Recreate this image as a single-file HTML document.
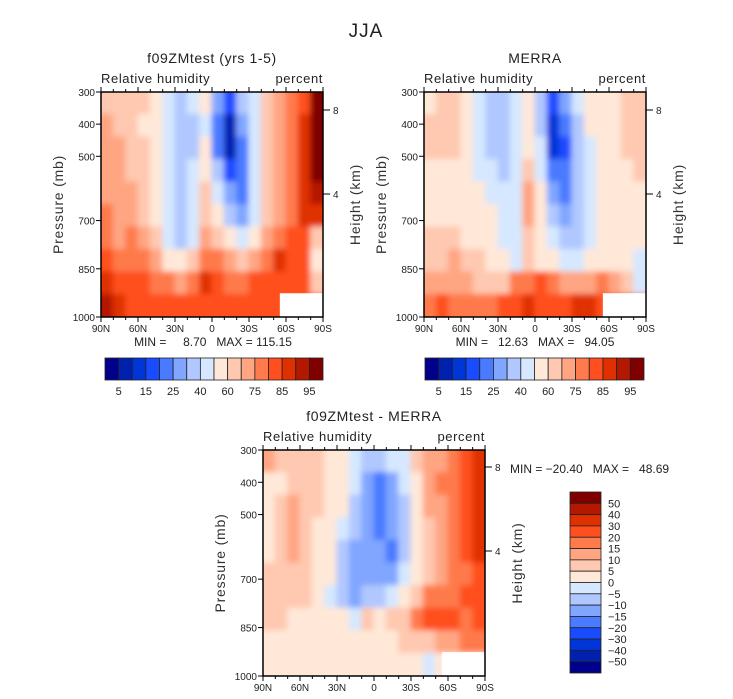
<!DOCTYPE html>
<html><head><meta charset="utf-8"><style>
html,body{margin:0;padding:0;background:#fff;}
svg{display:block;font-family:"Liberation Sans",sans-serif;}
.pre{white-space:pre;}
</style></head><body>
<svg id="chart" width="733" height="699" viewBox="0 0 733 699" xmlns="http://www.w3.org/2000/svg">
<defs></defs>
<text x="366" y="37" font-size="19" text-anchor="middle" fill="#222" letter-spacing="1">JJA</text>
</svg>
<script>
// ----- data -----
const latLabels = ["90N","60N","30N","0","30S","60S","90S"];
const pressureTicks = [300,400,500,700,850,1000];
const rhLevels = [5,10,15,20,25,30,40,50,60,65,75,80,85,90,95];
const rhLabelLevels = [5,15,25,40,60,75,85,95];
const diffLevels = [-50,-40,-30,-20,-15,-10,-5,0,5,10,15,20,30,40,50];
const palette = ["#00008a","#0020b0","#0035d8","#1a4cff","#4a7aff","#80a6ff","#b0c8ff","#d6e8ff","#ffe8d8","#ffc8b0","#ffa582","#ff7a4c","#ff4f1e","#e03000","#b41800","#800000"];
const heightTicks = [8,4];
// rows: pressure bands 300..1000 (70 mb each), columns: 85N..85S every 10 deg
const modelRH = [
[62,62,62,62,55,45,35,45,55,27,17,35,45,62,70,77,82,97],
[70,62,62,55,55,45,35,35,45,22,7,27,45,62,70,77,87,97],
[70,70,62,62,55,45,35,35,55,22,7,22,45,62,70,77,87,97],
[70,70,62,62,55,45,35,45,55,35,17,22,45,62,70,77,87,97],
[70,70,70,62,55,45,35,45,62,45,27,22,45,62,70,77,87,92],
[77,70,70,62,55,45,35,45,62,55,35,27,45,62,70,77,87,87],
[77,70,77,70,62,45,35,45,70,62,55,45,55,70,77,82,82,62],
[82,77,77,77,70,55,55,62,77,77,70,62,70,77,87,82,82,55],
[87,82,82,82,77,77,70,77,87,82,77,77,82,82,82,82,82,62],
[92,87,82,82,82,82,82,82,82,82,82,82,82,82,82,82,82,82]];
const merraRH = [
[55,62,62,55,45,35,35,45,55,35,17,27,45,55,55,55,62,62],
[62,62,62,55,45,35,35,45,55,35,12,22,35,55,55,55,62,62],
[62,62,62,55,45,35,35,45,55,45,12,17,35,45,55,55,62,62],
[55,55,55,55,45,45,35,45,62,45,22,22,35,45,55,55,55,62],
[55,55,55,55,55,45,45,45,70,55,27,22,35,45,55,55,55,55],
[55,55,55,55,55,55,45,45,70,55,35,27,35,45,55,55,55,55],
[62,62,62,55,55,55,45,45,62,55,45,35,35,45,55,55,55,55],
[62,62,70,62,62,55,55,45,62,55,55,45,45,55,55,55,55,45],
[70,70,70,70,62,62,62,77,77,82,77,70,70,70,77,70,62,45],
[77,82,77,77,77,77,82,82,87,82,82,82,87,87,82,82,87,87]];
const diffRH = [
[12,7,7,7,7,2,2,-2,-7,-7,-2,-2,7,12,12,17,25,35],
[2,2,7,7,7,2,2,-2,-12,-17,-12,-2,2,12,17,17,25,35],
[2,7,12,7,7,2,2,-7,-12,-17,-12,-7,2,12,12,17,25,35],
[2,7,12,7,2,2,-2,-7,-12,-17,-12,-7,2,7,12,17,25,35],
[2,7,12,7,2,2,-7,-12,-12,-12,-17,-7,2,7,12,17,25,35],
[7,7,7,7,2,2,-7,-12,-12,-12,-12,-2,2,7,12,17,17,25],
[7,7,7,7,2,-2,-7,-12,-7,-7,-2,2,7,17,17,17,25,25],
[7,7,2,2,2,2,2,-2,7,2,7,7,17,25,25,25,17,25],
[2,2,2,2,2,2,2,2,2,2,2,7,7,7,12,12,17,17],
[2,2,2,2,2,2,2,2,2,2,2,2,2,-2,2,2,2,2]];

const NS="http://www.w3.org/2000/svg";
const svg=document.getElementById('chart');
const defs=svg.querySelector('defs');
function mk(tag,attrs,parent){const e=document.createElementNS(NS,tag);for(const k in attrs)e.setAttribute(k,attrs[k]);(parent||svg).appendChild(e);return e;}
function colorFor(v,levels){let i=0;while(i<levels.length&&v>=levels[i])i++;return palette[i];}

function panel(cfg){
  const {x0,x1,y0,y1,data,levels,name}=cfg;
  const xs=lat=>x0+(90-lat)/180*(x1-x0);
  const ys=p=>y0+(p-300)/700*(y1-y0);
  const g=mk('g',{});
  
  
  const cp=mk('clipPath',{id:'clip-'+name},defs);
  mk('rect',{x:x0,y:y0,width:x1-x0,height:y1-y0},cp);
  const flt=mk('filter',{id:'blur-'+name,filterUnits:'userSpaceOnUse',x:x0-30,y:y0-30,width:x1-x0+60,height:y1-y0+60},defs);
  mk('feGaussianBlur',{stdDeviation:3},flt);
  const outer=mk('g',{'clip-path':'url(#clip-'+name+')'},g);
  const field=mk('g',{filter:'url(#blur-'+name+')'},outer);
  
  
  const nr=data.length,nc=data[0].length,E=14;
  for(let r=0;r<nr;r++)for(let c=0;c<nc;c++){
    const v=data[r][c];
    const la=90-c*180/nc, lb=90-(c+1)*180/nc;
    const pa=300+r*700/nr, pb=300+(r+1)*700/nr;
    let cx0=xs(la)-0.5, cx1=xs(lb)+0.5, cy0=ys(pa)-0.5, cy1=ys(pb)+0.5;
    if(c===0)cx0-=E; if(c===nc-1)cx1+=E; if(r===0)cy0-=E; if(r===nr-1)cy1+=E;
    const cell=mk('rect',{x:cx0,y:cy0,width:cx1-cx0,height:cy1-cy0,fill:v===null?'#fff':colorFor(v,levels)},field);
    
    
  }
  const m=mk('rect',{x:xs(-55),y:ys(926),width:x1-xs(-55),height:y1-ys(926),fill:'#fff'},outer);
  
  
  const fr=mk('rect',{x:x0,y:y0,width:x1-x0,height:y1-y0,fill:'none',stroke:'#000','stroke-width':1.5},g);
  
  
  for(let lat=90;lat>=-90;lat-=10){
    const x=xs(lat),major=(lat%30===0);
    mk('line',{x1:x,x2:x,y1:y1,y2:y1+(major?5:3),stroke:'#000'},g);
    mk('line',{x1:x,x2:x,y1:y0,y2:y0-(major?5:3),stroke:'#000'},g);
  }
  latLabels.forEach((t,i)=>{
    const lat=90-i*30;
    const tx=mk('text',{x:xs(lat),y:y1+15,'font-size':10,'text-anchor':'middle',fill:'#222'},g);
    tx.textContent=t;
    
    
  });
  pressureTicks.forEach(p=>{
    mk('line',{x1:x0-5,x2:x0,y1:ys(p),y2:ys(p),stroke:'#000'},g);
    const tx=mk('text',{x:x0-6,y:ys(p)+4,'font-size':10,'text-anchor':'end',fill:'#222'},g);
    tx.textContent=p;
    
    
  });
  heightTicks.forEach((h,i)=>{
    const y=cfg.hY[i];
    mk('line',{x1:x1,x2:x1+7,y1:y,y2:y,stroke:'#000'},g);
    const tx=mk('text',{x:x1+10,y:y+4,'font-size':10,fill:'#222'},g);
    tx.textContent=h;
    
    
  });
  const cy=(y0+y1)/2;
  const yt=mk('text',{x:x0-38,y:cy,'font-size':14,'text-anchor':'middle',fill:'#333','letter-spacing':0.8,transform:`rotate(-90 ${x0-38} ${cy})`},g);
  yt.textContent='Pressure (mb)';
  
  
  const ht=mk('text',{x:x1+37,y:cy,'font-size':14,'text-anchor':'middle',fill:'#333','letter-spacing':0.8,transform:`rotate(-90 ${x1+37} ${cy})`},g);
  ht.textContent='Height (km)';
  
  
  const l1=mk('text',{x:x0,y:y0-9,'font-size':13,fill:'#222','letter-spacing':0.6},g);
  l1.textContent='Relative humidity';
  
  
  const l2=mk('text',{x:x1,y:y0-9,'font-size':13,'text-anchor':'end',fill:'#222','letter-spacing':0.6},g);
  l2.textContent='percent';
  
  
  const tt=mk('text',{x:(x0+x1)/2,y:y0-29,'font-size':14,'text-anchor':'middle',fill:'#222','letter-spacing':0.6},g);
  tt.textContent=cfg.title;
  
  
}

function hColorbar(x0,x1,y0,y1,name){
  const g=mk('g',{});
  
  
  const w=(x1-x0)/palette.length;
  palette.forEach((c,i)=>{
    const b=mk('rect',{x:x0+i*w,y:y0,width:w,height:y1-y0,fill:c,stroke:'#222','stroke-width':0.8},g);
    
    
  });
  rhLabelLevels.forEach(v=>{
    const k=rhLevels.indexOf(v);
    const tx=mk('text',{x:x0+(k+1)*w,y:y1+15,'font-size':11,'text-anchor':'middle',fill:'#222'},g);
    tx.textContent=v;
    
    
  });
}

panel({name:'model',title:'f09ZMtest (yrs 1-5)',x0:101,x1:323,y0:92,y1:317,data:modelRH,levels:rhLevels,hY:[110,194]});
panel({name:'merra',title:'MERRA',x0:424,x1:646,y0:92,y1:317,data:merraRH,levels:rhLevels,hY:[110,194]});
panel({name:'difference',title:'f09ZMtest - MERRA',x0:263,x1:485,y0:450,y1:676,data:diffRH,levels:diffLevels,hY:[467,551]});

hColorbar(105,323,358,380,'model-colorbar');
hColorbar(425,644,358,380,'merra-colorbar');

function txt(x,y,s,size,anchor,name){
  const t=mk('text',{x:x,y:y,'font-size':size,'text-anchor':anchor||'start',fill:'#222','class':'pre'});
  t.textContent=s;
  
  
  return t;
}
txt(213,346,'MIN =     8.70   MAX = 115.15',12,'middle','model-min-max');
txt(535,346,'MIN =   12.63   MAX =   94.05',12,'middle','merra-min-max');
txt(510,473,'MIN = \u221220.40   MAX =   48.69',12,'start','difference-min-max');

(function(){
  const x0=570,x1=601,y0=492,y1=673;
  const g=mk('g',{});
  
  
  const h=(y1-y0)/palette.length;
  palette.slice().reverse().forEach((c,i)=>{
    const b=mk('rect',{x:x0,y:y0+i*h,width:x1-x0,height:h,fill:c,stroke:'#222','stroke-width':0.8},g);
    
    
  });
  diffLevels.slice().reverse().forEach((v,i)=>{
    const t=mk('text',{x:608,y:y0+(i+1)*h+4,'font-size':11,fill:'#222'},g);
    t.textContent=v<0?'\u2212'+(-v):String(v);
    
    
  });
})();
</script>
</body></html>
